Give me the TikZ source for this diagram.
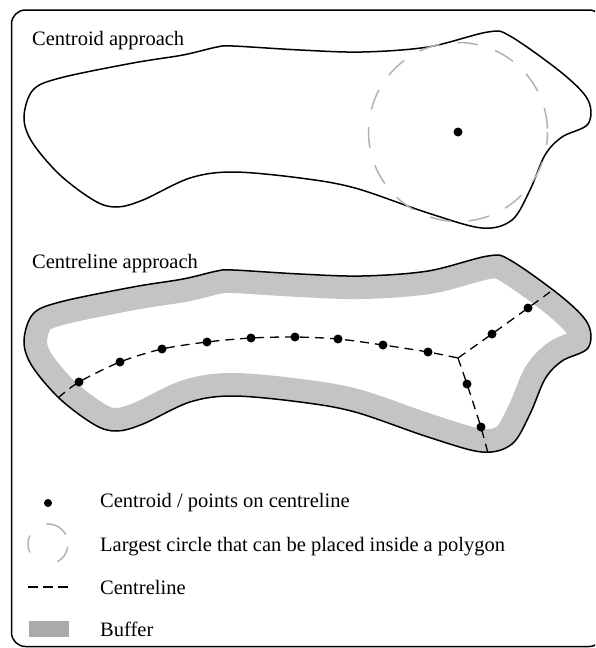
\documentclass[tikz,border=0pt]{standalone}
\usepackage{fontspec}
\setmainfont{Liberation Serif}
\definecolor{circgray}{RGB}{178,178,178}
\definecolor{bufgray}{RGB}{196,196,196}
\definecolor{swatchgray}{RGB}{170,170,170}
\begin{document}
\begin{tikzpicture}[x=1pt,y=-1pt,
  outl/.style={draw=black, line width=1.5pt},
  dot/.style={circle, fill=black, inner sep=0pt, minimum size=9pt},
  ldot/.style={circle, fill=black, inner sep=0pt, minimum size=8pt},
  cline/.style={draw=black, line width=1.3pt, dash pattern=on 9pt off 6pt},
  circ/.style={draw=circgray, line width=1.5pt},
  lbl/.style={anchor=base west, inner sep=0pt, font=\fontsize{20.5}{24}\selectfont},
  blob/.style={insert path={plot[smooth cycle, tension=0.55] coordinates {
    (24,117) (33,90) (60,78) (133,63) (183,55) (217,47) (233,46) (300,50)
    (362,52) (428,47) (488,32) (510,36) (562,73) (588,100) (588,124)
    (562,137) (545,155) (530,190) (512,220) (482,228) (428,213) (355,188)
    (300,178) (233,172) (190,178) (143,200) (117,207) (95,201) (60,175) (32,142)}}},
]
\useasboundingbox (0,0) rectangle (595,648);
% frame
\begin{scope}
  \clip (0,0) rectangle (595,648);
  \draw[line width=1.5pt, rounded corners=14pt] (11.5,10) rectangle (603,646.5);
\end{scope}

% ---------- Centroid approach ----------
\node[lbl] (t1) at (32,45) {Centroid approach};
\draw[outl, blob];
\draw[circ, dash pattern=on 21pt off 18pt, dash phase=8pt] (458,132) circle[radius=89.5];
\node[dot] (cen) at (458,132) {};

% ---------- Centreline approach ----------
\node[lbl] (t2) at (32,268) {Centreline approach};
\begin{scope}[yshift=-224pt]
  \begin{scope}
    \clip[blob];
    \draw[draw=bufgray, line width=46pt, blob];
  \end{scope}
  \draw[outl, blob];
\end{scope}

\coordinate (e0) at (58,398);
\coordinate (J) at (458,358);
\coordinate (eq) at (550,292);
\coordinate (er) at (488,453);
\node[dot] (p1) at (79,382) {};
\node[dot] (p2) at (120,362) {};
\node[dot] (p3) at (162,349) {};
\node[dot] (p4) at (207,342) {};
\node[dot] (p5) at (251,338) {};
\node[dot] (p6) at (295,337) {};
\node[dot] (p7) at (338,339) {};
\node[dot] (p8) at (383,345) {};
\node[dot] (p9) at (428,352) {};
\node[dot] (q1) at (492,334) {};
\node[dot] (q2) at (528,308) {};
\node[dot] (r1) at (467,384) {};
\node[dot] (r2) at (481,427) {};
\draw[cline] plot[smooth, tension=0.5] coordinates {(e0) (p1.center) (p2.center) (p3.center) (p4.center) (p5.center) (p6.center) (p7.center) (p8.center) (p9.center) (J)};
\draw[cline] (J) -- (q1.center) -- (q2.center) -- (eq);
\draw[cline] (J) -- (r1.center) -- (r2.center) -- (er);

% ---------- Legend ----------
\node[ldot] (l1) at (48,503) {};
\node[lbl] (lt1) at (100,507) {Centroid / points on centreline};
\coordinate (lc) at (48,544);
\draw[circ] (lc) ++(-95:20) arc[start angle=-95, end angle=-28, radius=20];
\draw[circ] (lc) ++(8:20) arc[start angle=8, end angle=62, radius=20];
\draw[circ] (lc) ++(155:20) arc[start angle=155, end angle=205, radius=20];
\node[lbl] (lt2) at (100,551.5) {Largest circle that can be placed inside a polygon};
\coordinate (la) at (28,587);
\coordinate (lb) at (68,587);
\draw[black, line width=1.4pt, dash pattern=on 10pt off 5pt] (la) -- (lb);
\node[lbl] (lt3) at (100,594) {Centreline};
\node[fill=swatchgray, inner sep=0pt, minimum width=40pt, minimum height=16pt] (sw) at (48.5,628.5) {};
\node[lbl] (lt4) at (100,636.5) {Buffer};
\end{tikzpicture}
\end{document}
